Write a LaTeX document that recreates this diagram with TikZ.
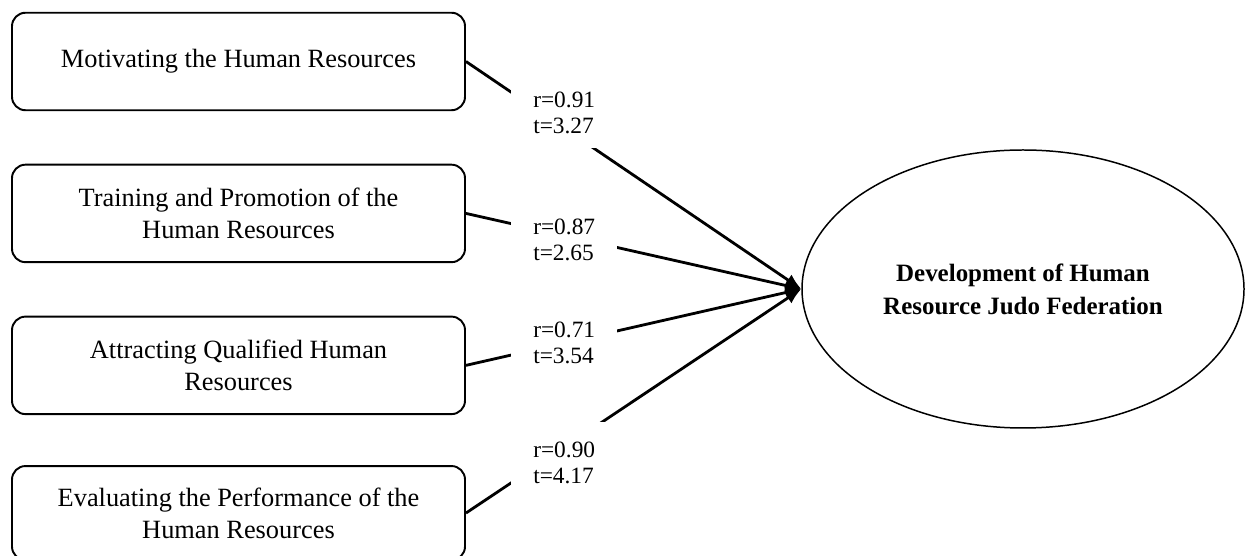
\documentclass[tikz,border=0pt]{standalone}
\usepackage{fontspec}
\setmainfont{Liberation Serif}
\usetikzlibrary{arrows.meta, positioning, shapes.geometric}

\begin{document}
\begin{tikzpicture}[
      box/.style={draw, line width=1.1pt, rounded corners=0.27cm, minimum height=1.95cm,
                  minimum width=9.06cm, align=center, font=\fontsize{15}{18}\selectfont},
      goalnode/.style={ellipse, draw, line width=0.85pt, minimum width=8.84cm,
                  minimum height=5.56cm, align=center, font=\fontsize{14.2}{18.8}\selectfont\bfseries},
      coef/.style={fill=white, inner sep=0pt, minimum width=2.12cm, minimum height=1.4cm,
                  align=left, font=\fontsize{13.3}{14.8}\selectfont},
      arr/.style={-{Latex[length=3.2mm, width=2.6mm]}, line width=1.6pt}]
    \useasboundingbox (0,0) rectangle (24.92,11.12);
    \node[box]                        (motiv) at (4.77,9.89) {Motivating the Human Resources};
    \node[box, below=1.05cm of motiv] (train) {Training and Promotion of the\\Human Resources};
    \node[box, below=1.05cm of train] (attr)  {Attracting Qualified Human\\Resources};
    \node[box, below=1.0cm of attr, minimum height=1.88cm] (eval) {Evaluating the Performance of the\\Human Resources};
    \node[goalnode] (goal) at (20.46,5.34) {Development of Human\\Resource Judo Federation};
    \draw[arr] (motiv.east) -- node[coef, pos=0.293, yshift=0.3cm]   {r=0.91\\t=3.27} (goal.west);
    \draw[arr] (train.east) -- node[coef, pos=0.293, yshift=-0.08cm] {r=0.87\\t=2.65} (goal.west);
    \draw[arr] (attr.east)  -- node[coef, pos=0.293]                 {r=0.71\\t=3.54} (goal.west);
    \draw[arr] (eval.east)  -- node[coef, pos=0.293, yshift=-0.3cm, minimum height=1.6cm] {r=0.90\\t=4.17} (goal.west);
  \end{tikzpicture}
\end{document}
